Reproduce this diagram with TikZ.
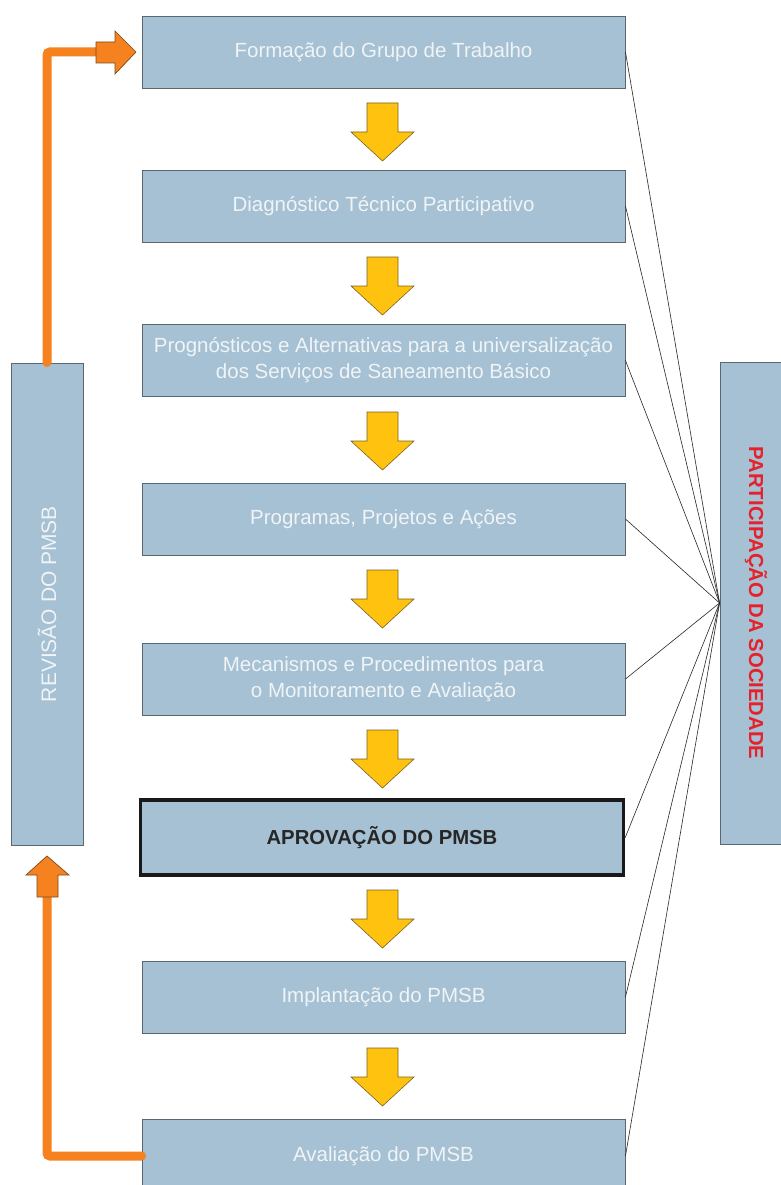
\documentclass[tikz,border=0pt]{standalone}
\usepackage{fontspec}
\setmainfont{Liberation Sans}
\definecolor{boxfill}{HTML}{A5C1D3}
\definecolor{boxline}{HTML}{5A6670}
\definecolor{txtlight}{HTML}{F0F4F7}
\definecolor{yel}{HTML}{FFC20E}
\definecolor{yelline}{HTML}{7A6420}
\definecolor{orng}{HTML}{F5821F}
\definecolor{orngline}{HTML}{7A4A20}
\definecolor{redtxt}{HTML}{E5222B}
\begin{document}
\begin{tikzpicture}[x=1pt,y=-1pt,
  stage/.style={draw=boxline,line width=0.9pt,fill=boxfill,minimum width=483pt,minimum height=72pt,
    inner sep=0pt,align=center,text=txtlight,font=\fontsize{20.5}{26}\selectfont},
  sidebox/.style={draw=boxline,line width=0.9pt,fill=boxfill,minimum width=72pt,minimum height=482pt,inner sep=0pt},
  link/.style={draw=black!85,line width=0.6pt},
  yarr/.style={fill=yel,draw=yelline,line width=0.6pt},
  oarr/.style={fill=orng,draw=orngline,line width=0.7pt},
  oline/.style={draw=orng,line width=9pt,line cap=round,rounded corners=3pt}]
\useasboundingbox (0,0) rectangle (781,1185);
\fill[white] (0,0) rectangle (781,1185);

\newcommand{\yarrowat}[1]{%
  \filldraw[yarr] (367,#1) -- (398,#1) -- (398,#1+29) -- (414,#1+29) -- (382.5,#1+58)
    -- (351,#1+29) -- (367,#1+29) -- cycle;}

% side boxes
\node[sidebox] (lbox) at (47,604) {};
\node[text=txtlight,rotate=90,font=\fontsize{21}{24}\selectfont] (ltxt) at (lbox.center) {REVISÃO DO PMSB};
\node[sidebox] (rbox) at (756,603) {};
\node[text=redtxt,rotate=-90,font=\bfseries\fontsize{20.3}{24}\selectfont] (rtxt) at (rbox.center) {PARTICIPAÇÃO DA SOCIEDADE};

% stages
\node[stage] (b1) at (383.5,52) {Formação do Grupo de Trabalho};
\node[stage] (b2) at (383.5,206) {Diagnóstico Técnico Participativo};
\node[stage] (b3) at (383.5,360.5) {Prognósticos e Alternativas para a universalização\\dos Serviços de Saneamento Básico};
\node[stage] (b4) at (383.5,519) {Programas, Projetos e Ações};
\node[stage] (b5) at (383.5,679) {Mecanismos e Procedimentos para\\o Monitoramento e Avaliação};
\node[stage,draw=black!90,line width=3.5pt,minimum height=75pt,text=black!85,font=\bfseries\fontsize{20.3}{24}\selectfont] (b6) at (382,837.5) {APROVAÇÃO DO PMSB};
\node[stage] (b7) at (383.5,997) {Implantação do PMSB};
\node[stage,minimum height=74pt] (b8) at (383.5,1156) {Avaliação do PMSB};

% yellow arrows
\yarrowat{103}
\yarrowat{257}
\yarrowat{412}
\yarrowat{570}
\yarrowat{730}
\yarrowat{890}
\yarrowat{1048}

% links to participation
\foreach \b in {b1,b2,b3,b4,b5,b6,b7,b8}
  \draw[link] (\b.east) -- (rbox.west);

% orange revision loop
\coordinate (otop) at (96,52);
\draw[oline] (lbox.north) |- (otop);
\filldraw[oarr] (96,42) -- (115,42) -- (115,31) -- (136,52) -- (115,74) -- (115,63) -- (96,63) -- cycle;
\coordinate (obot) at (47,897);
\draw[oline] (b8.west) -| (obot);
\filldraw[oarr] (37,897) -- (37,875) -- (26,875) -- (47,856) -- (69,875) -- (58,875) -- (58,897) -- cycle;
\end{tikzpicture}
\end{document}
